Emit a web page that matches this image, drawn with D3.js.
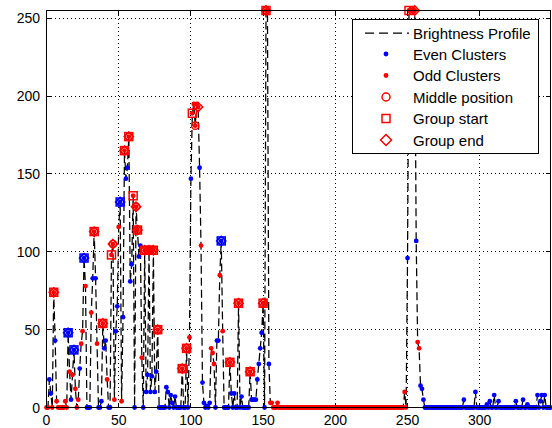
<!DOCTYPE html>
<html>
<head>
<meta charset="utf-8">
<script src="https://cdn.jsdelivr.net/npm/d3@7"></script>
<style>
  body { margin: 0; background: #fff; }
  text { font-family: "Liberation Sans", Arial, sans-serif; fill: #000; }
</style>
</head>
<body>
<svg id="chart" width="552" height="428"></svg>
<script>
// brightness value for each column 0..349
const brightness = [
  0, 0, 18, 9, 0, 74, 43, 4, 0, 0,
  0, 0, 0, 4, 0, 48, 23, 5, 21, 37,
  12, 0, 5, 25, 41, 49, 96, 78, 0, 0,
  0, 61, 83, 113, 83, 41, 0, 0, 4, 54,
  38, 43, 18, 0, 0, 98, 105, 5, 49, 65,
  116, 132, 4, 58, 165, 147, 154, 174, 81, 92,
  136, 0, 129, 114, 97, 104, 32, 0, 101, 10,
  21, 101, 10, 20, 101, 10, 23, 50, 0, 0,
  0, 0, 0, 13, 10, 0, 8, 3, 0, 7,
  0, 0, 0, 0, 25, 0, 0, 38, 0, 45,
  147, 189, 195, 181, 195, 193, 154, 104, 16, 3,
  0, 1, 0, 3, 38, 35, 28, 0, 43, 43,
  85, 107, 49, 0, 0, 0, 0, 29, 9, 0,
  9, 0, 0, 67, 0, 7, 0, 0, 0, 0,
  0, 23, 5, 5, 5, 5, 18, 28, 38, 48,
  67, 0, 255, 255, 28, 3, 3, 0, 0, 0,
  3, 0, 0, 0, 0, 0, 0, 0, 0, 0,
  0, 0, 0, 0, 0, 0, 0, 0, 0, 0,
  0, 0, 0, 0, 0, 0, 0, 0, 0, 0,
  0, 0, 0, 0, 0, 0, 0, 0, 0, 0,
  0, 0, 0, 0, 0, 0, 0, 0, 0, 0,
  0, 0, 0, 0, 0, 0, 0, 0, 0, 0,
  0, 0, 0, 0, 0, 0, 0, 0, 0, 0,
  0, 0, 0, 0, 0, 0, 0, 0, 0, 0,
  0, 0, 0, 0, 0, 0, 0, 0, 10, 0,
  96, 255, 255, 255, 255, 255, 107, 42, 38, 14,
  12, 5, 0, 0, 0, 0, 0, 0, 0, 0,
  0, 0, 0, 0, 0, 0, 0, 0, 0, 0,
  0, 0, 0, 0, 0, 0, 0, 0, 0, 5,
  0, 0, 0, 0, 0, 0, 0, 10, 0, 0,
  0, 0, 0, 0, 0, 2, 0, 4, 0, 0,
  8, 0, 0, 4, 0, 0, 0, 0, 0, 0,
  0, 0, 0, 0, 0, 4, 0, 0, 0, 0,
  5, 0, 0, 2, 0, 0, 0, 0, 0, 0,
  8, 0, 4, 8, 0, 8, 0, 0, 0, 0
];

// columns that belong to odd clusters (inclusive ranges); the rest are even
const oddRanges = [
  [0, 1], [4, 5], [7, 14], [16, 16], [18, 18], [20, 22], [24, 25], [27, 27],
  [31, 31], [33, 33], [35, 35], [39, 39], [42, 42], [45, 47], [50, 50], [52, 52],
  [54, 54], [57, 57], [60, 60], [62, 63], [66, 66], [68, 68], [71, 71], [74, 74],
  [77, 77], [94, 94], [97, 97], [99, 99], [101, 105], [107, 107], [114, 116],
  [120, 120], [122, 122], [127, 127], [133, 133], [141, 141], [150, 150],
  [152, 153], [155, 249], [251, 255], [257, 258]
];

const groupStart = [5, 15, 19, 26, 33, 39, 45, 51, 54, 57, 60, 63, 68, 71, 74, 77, 94, 97, 101, 121, 127, 133, 141, 150, 152, 251];
const middlePos  = [5, 15, 19, 26, 33, 39, 46, 51, 54, 57, 62, 63, 68, 71, 74, 77, 94, 97, 103, 121, 127, 133, 141, 150, 152, 253];
const groupEnd   = [5, 15, 19, 26, 33, 39, 46, 51, 54, 57, 62, 63, 68, 71, 74, 77, 94, 97, 105, 121, 127, 133, 141, 150, 152, 255];

const xTicks = [0, 50, 100, 150, 200, 250, 300];
const yTicks = [0, 50, 100, 150, 200, 250];
const legendLabels = ["Brightness Profile", "Even Clusters", "Odd Clusters", "Middle position", "Group start", "Group end"];

const BLUE = "#0000ff", RED = "#ff0000";

let isOdd = function (i) {
    return oddRanges.some(r => i >= r[0] && i <= r[1]);
};
let colorAt = function (i) {
    return isOdd(i) ? RED : BLUE;
};

let points = brightness.map((v, i) => ({i: i, v: v, odd: isOdd(i)}));

let svg = d3.select("#chart");
svg.append("rect").attr("width", 552).attr("height", 428).attr("fill", "#fff");

let x = d3.scaleLinear().domain([0, 349]).range([46.5, 550.5]);
let y = d3.scaleLinear().domain([0, 255]).range([407.5, 10.5]);
let px = v => Math.round(x(v) - 0.5) + 0.5,
    py = v => Math.round(y(v) - 0.5) + 0.5;

// dotted grid
let grid = svg.append("g").attr("stroke", "#000").attr("stroke-width", 1)
    .attr("stroke-dasharray", "1,3").attr("shape-rendering", "crispEdges");
grid.selectAll(".gx").data(xTicks.filter(t => t > 0)).enter().append("line")
    .attr("x1", px).attr("x2", px).attr("y1", y(0)).attr("y2", y(255));
grid.selectAll(".gy").data(yTicks.filter(t => t > 0)).enter().append("line")
    .attr("y1", py).attr("y2", py).attr("x1", x(0)).attr("x2", x(349));

// brightness profile
let line = d3.line().x(d => x(d.i)).y(d => y(d.v));
svg.append("path").datum(points)
    .attr("d", line)
    .attr("fill", "none")
    .attr("stroke", "#000")
    .attr("stroke-width", 1.25)
    .attr("stroke-dasharray", "8,4");

// cluster dots
svg.append("g").selectAll("circle").data(points.filter(d => !d.odd)).enter().append("circle")
    .attr("cx", d => x(d.i)).attr("cy", d => y(d.v)).attr("r", 2.4).attr("fill", BLUE);
svg.append("g").selectAll("circle").data(points.filter(d => d.odd)).enter().append("circle")
    .attr("cx", d => x(d.i)).attr("cy", d => y(d.v)).attr("r", 2.4).attr("fill", RED);

// markers
let mk = svg.append("g").attr("fill", "none").attr("stroke-width", 1.5);
mk.selectAll(".mid").data(middlePos).enter().append("circle")
    .attr("cx", i => x(i)).attr("cy", i => y(brightness[i])).attr("r", 3.6)
    .attr("stroke", colorAt);
mk.selectAll(".start").data(groupStart).enter().append("rect")
    .attr("x", i => x(i) - 4).attr("y", i => y(brightness[i]) - 4)
    .attr("width", 8).attr("height", 8)
    .attr("stroke", colorAt);
mk.selectAll(".end").data(groupEnd).enter().append("path")
    .attr("d", i => {
        let cx = x(i), cy = y(brightness[i]), r = 4.6;
        return `M${cx},${cy - r}L${cx + r},${cy}L${cx},${cy + r}L${cx - r},${cy}Z`;
    })
    .attr("stroke", colorAt);

// axes box with inward ticks
let axes = svg.append("g").attr("stroke", "#000").attr("stroke-width", 1).attr("shape-rendering", "crispEdges");
axes.append("rect").attr("x", 46.5).attr("y", 10.5).attr("width", 504).attr("height", 397).attr("fill", "none");
xTicks.forEach(t => {
    axes.append("line").attr("x1", px(t)).attr("x2", px(t)).attr("y1", 407.5).attr("y2", 402.5);
    axes.append("line").attr("x1", px(t)).attr("x2", px(t)).attr("y1", 10.5).attr("y2", 15.5);
});
yTicks.forEach(t => {
    axes.append("line").attr("y1", py(t)).attr("y2", py(t)).attr("x1", 46.5).attr("x2", 51.5);
    axes.append("line").attr("y1", py(t)).attr("y2", py(t)).attr("x1", 550.5).attr("x2", 545.5);
});

svg.append("g").selectAll("text").data(xTicks).enter().append("text")
    .attr("x", d => x(d)).attr("y", 425).attr("text-anchor", "middle")
    .attr("font-size", 14).text(d => d);
svg.append("g").selectAll("text").data(yTicks).enter().append("text")
    .attr("x", 40).attr("y", d => y(d) + 5).attr("text-anchor", "end")
    .attr("font-size", 14).text(d => d);

// legend
let lg = svg.append("g");
lg.append("rect").attr("x", 352.5).attr("y", 19.5).attr("width", 186).attr("height", 134)
    .attr("fill", "#fff").attr("stroke", "#000").attr("shape-rendering", "crispEdges");
let rowY = [33, 54, 75.5, 97, 118.5, 140];
lg.selectAll("text").data(legendLabels).enter().append("text")
    .attr("x", 413).attr("y", (d, k) => rowY[k] + 5.5)
    .attr("font-size", 15).text(d => d);
lg.append("line").attr("x1", 365).attr("x2", 409).attr("y1", rowY[0]).attr("y2", rowY[0])
    .attr("stroke", "#000").attr("stroke-width", 1.25).attr("stroke-dasharray", "9,5");
lg.append("circle").attr("cx", 386).attr("cy", rowY[1]).attr("r", 2.4).attr("fill", BLUE);
lg.append("circle").attr("cx", 386).attr("cy", rowY[2]).attr("r", 2.4).attr("fill", RED);
lg.append("circle").attr("cx", 386).attr("cy", rowY[3]).attr("r", 4).attr("fill", "none")
    .attr("stroke", RED).attr("stroke-width", 1.5);
lg.append("rect").attr("x", 382).attr("y", rowY[4] - 4).attr("width", 8).attr("height", 8)
    .attr("fill", "none").attr("stroke", RED).attr("stroke-width", 1.5);
lg.append("path").attr("d", `M386,${rowY[5] - 5.5}L391.5,${rowY[5]}L386,${rowY[5] + 5.5}L380.5,${rowY[5]}Z`)
    .attr("fill", "none").attr("stroke", RED).attr("stroke-width", 1.5);
</script>
</body>
</html>
